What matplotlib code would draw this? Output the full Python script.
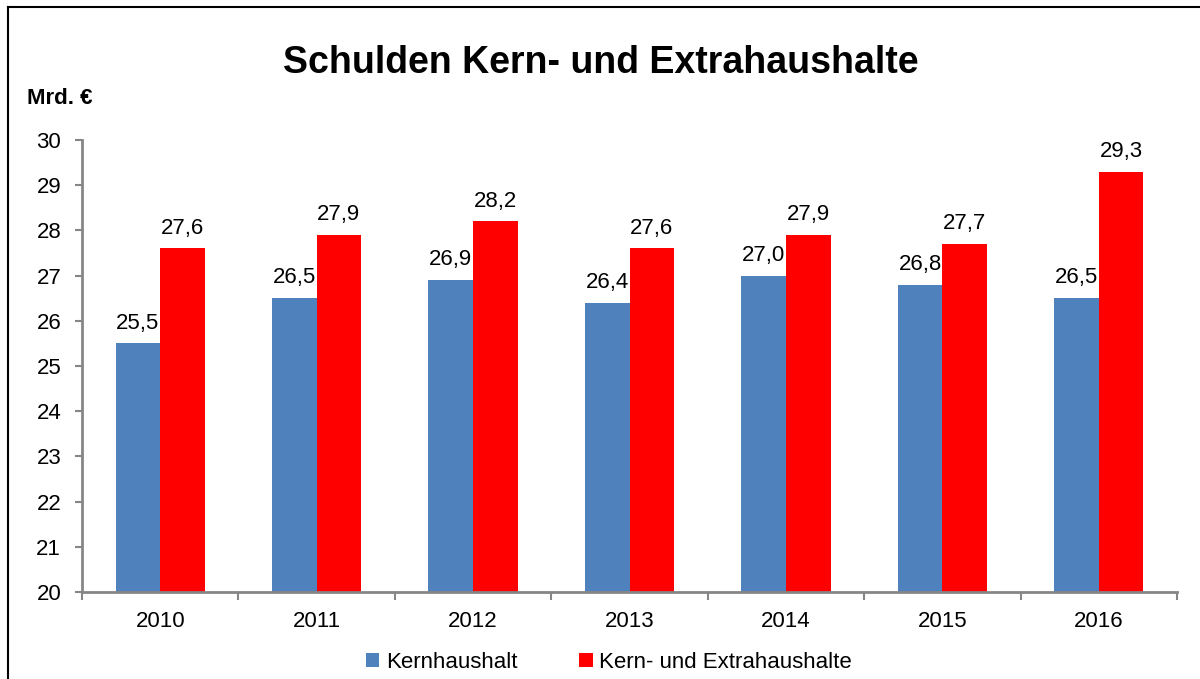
import numpy as np
import matplotlib
matplotlib.use('Agg')
import matplotlib.pyplot as plt
from matplotlib.lines import Line2D

plt.rcParams['font.family'] = ['Liberation Sans', 'DejaVu Sans']

years = ['2010', '2011', '2012', '2013', '2014', '2015', '2016']
kern = [25.5, 26.5, 26.9, 26.4, 27.0, 26.8, 26.5]
kern_extra = [27.6, 27.9, 28.2, 27.6, 27.9, 27.7, 29.3]
series_names = ['Kernhaushalt', 'Kern- und Extrahaushalte']
col_blue = '#4f81bd'
col_red = '#ff0000'

W, H = 1200, 679
fig = plt.figure(figsize=(W/100, H/100), dpi=100)
ax = fig.add_axes([82/W, 1-592/H, (1177-82)/W, (592-140)/H])

x = np.arange(len(years))
bw = 0.285
b1 = ax.bar(x - bw/2, [v - 20 for v in kern], bw, bottom=20, color=col_blue, label=series_names[0])
b2 = ax.bar(x + bw/2, [v - 20 for v in kern_extra], bw, bottom=20, color=col_red, label=series_names[1])

for bars, vals in [(b1, kern), (b2, kern_extra)]:
    for r, v in zip(bars, vals):
        ax.annotate(f'{v:.1f}'.replace('.', ','), (r.get_x() + r.get_width()/2, v),
                    xytext=(0, 7), textcoords='offset points', ha='center', va='bottom',
                    fontsize=16)

ax.set_xlim(-0.5, len(years) - 0.5)
ax.set_ylim(20, 30)
ax.set_yticks(range(20, 31))
ax.set_xticks(x)
ax.set_xticklabels(years)
ax.set_xticks(np.arange(-0.5, len(years)), minor=True)
ax.tick_params(axis='x', which='major', length=0, pad=14, labelsize=16)
ax.tick_params(axis='x', which='minor', length=6, color='#868686', width=1.5)
ax.tick_params(axis='y', length=5, color='#868686', width=1.5, pad=10, labelsize=16)
for s in ['top', 'right']:
    ax.spines[s].set_visible(False)
for s in ['left', 'bottom']:
    ax.spines[s].set_color('#868686')
    ax.spines[s].set_linewidth(2)

fig.text(601/W, 1-63/H, 'Schulden Kern- und Extrahaushalte', ha='center', va='center',
         fontsize=27, fontweight='bold')
fig.text(27/W, 1-98/H, 'Mrd. €', ha='left', va='center', fontsize=16, fontweight='bold')

fig.legend(handles=[b1, b2], loc='center', bbox_to_anchor=(609/W, 1-662/H), ncol=2,
           frameon=False, fontsize=16, handlelength=0.6, handleheight=0.6,
           handletextpad=0.3, columnspacing=2.8)

# outer frame (left and top edge visible)
fig.add_artist(Line2D([8/W, 8/W], [0, 1-7/H], color='black', lw=1.5, transform=fig.transFigure))
fig.add_artist(Line2D([8/W, 1], [1-7/H, 1-7/H], color='black', lw=1.5, transform=fig.transFigure))

fig.savefig('out.png', dpi=100)
